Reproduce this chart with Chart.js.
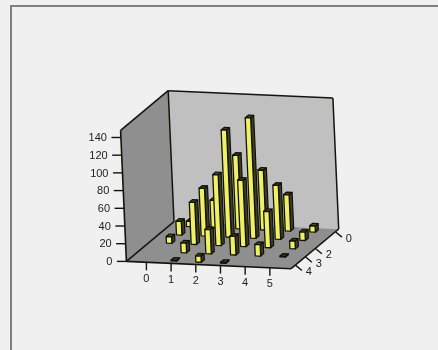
<!DOCTYPE html>
<html>
<head>
    <meta charset="UTF-8">
    <title>3D bars</title>
    <script src="https://cdn.jsdelivr.net/npm/chart.js"></script>
    <style>
        html, body { margin: 0; background: #f0f0f0; overflow: hidden; }
        #panel { position: absolute; left: 10px; top: 5px; right: 0; bottom: 0; border-left: 2px solid #808080; border-top: 2px solid #808080; }
        #chart { position: absolute; left: 0; top: 0; }
    </style>
</head>
<body>
    <div id="panel"></div>
    <canvas id="chart" width="438" height="350"></canvas>

    <script>
        const columns = [0, 1, 2, 3, 4, 5];
        const rows = [0, 1, 2, 3, 4];
        const valueTicks = [0, 20, 40, 60, 80, 100, 120, 140];
        const columnTicks = [0, 1, 2, 3, 4, 5];
        const rowTicks = [0, 2, 3, 4];

        const row0 = [6, 31, 83, 67.5, 41, 7];
        const row1 = [15.5, 54, 121, 136, 61, 9.5];
        const row2 = [7.5, 47.6, 80, 75, 41, 8.7];
        const row3 = [0, 11, 27.5, 21, 13, 1];
        const row4 = [0, 1, 7, 1, 0, 0];
        const rowValues = [row0, row1, row2, row3, row4];

        // box edges in pixels: back-left floor corner, then the three axis directions
        const origin = [174, 221.7];
        const alongX = [164.7, 7.3];
        const alongDepth = [-47.6, 39.7];
        const alongY = [-5.8, -131];

        const barHalfWidth = 0.11;
        const barHalfDepth = 0.15;

        function decimal(scale, value) {
            return scale.getDecimalForPixel(scale.getPixelForValue(value));
        }

        function project(chart, col, row, value) {
            const u = decimal(chart.scales.x, col);
            const w = decimal(chart.scales.depth, row);
            const h = decimal(chart.scales.y, value);
            return [
                origin[0] + u * alongX[0] + w * alongDepth[0] + h * alongY[0],
                origin[1] + u * alongX[1] + w * alongDepth[1] + h * alongY[1]
            ];
        }

        function polygon(ctx, points, fill, stroke, lineWidth) {
            ctx.beginPath();
            points.forEach((p, i) => i ? ctx.lineTo(p[0], p[1]) : ctx.moveTo(p[0], p[1]));
            ctx.closePath();
            ctx.fillStyle = fill;
            ctx.fill();
            if (stroke) {
                ctx.strokeStyle = stroke;
                ctx.lineWidth = lineWidth;
                ctx.lineJoin = 'round';
                ctx.stroke();
            }
        }

        function line(ctx, a, b, lineWidth) {
            ctx.beginPath();
            ctx.moveTo(a[0], a[1]);
            ctx.lineTo(b[0], b[1]);
            ctx.strokeStyle = '#14140c';
            ctx.lineWidth = lineWidth;
            ctx.stroke();
        }

        function corners(chart) {
            const x = chart.scales.x, d = chart.scales.depth, y = chart.scales.y;
            const at = (c, r, v) => project(chart, c, r, v);
            return {
                backLeft: at(x.min, d.min, y.min),
                backRight: at(x.max, d.min, y.min),
                frontLeft: at(x.min, d.max, y.min),
                frontRight: at(x.max, d.max, y.min),
                backLeftTop: at(x.min, d.min, y.max),
                backRightTop: at(x.max, d.min, y.max),
                frontLeftTop: at(x.min, d.max, y.max)
            };
        }

        function drawBox(chart) {
            const ctx = chart.ctx;
            const k = corners(chart);
            polygon(ctx, [k.frontLeft, k.frontLeftTop, k.backLeftTop, k.backLeft], '#8f8f8f');
            polygon(ctx, [k.backLeft, k.backLeftTop, k.backRightTop, k.backRight], '#c0c0c0');
            polygon(ctx, [k.frontLeft, k.backLeft, k.backRight, k.frontRight], '#8f8f8f');
            line(ctx, k.frontLeft, k.frontLeftTop, 1.6);
            line(ctx, k.frontLeftTop, k.backLeftTop, 1.6);
            line(ctx, k.backLeftTop, k.backRightTop, 1.6);
            line(ctx, k.backLeftTop, k.backLeft, 1.5);
            line(ctx, k.backRightTop, k.backRight, 1.5);
            line(ctx, k.frontLeft, k.backLeft, 1.5);
            line(ctx, k.frontLeft, k.frontRight, 1.6);
            line(ctx, k.frontRight, k.backRight, 1.6);
        }

        function drawAxes(chart) {
            const ctx = chart.ctx;
            const x = chart.scales.x, d = chart.scales.depth, y = chart.scales.y;
            ctx.font = '11px "Liberation Sans", Arial, sans-serif';
            ctx.textBaseline = 'middle';

            y.ticks.forEach(t => {
                const p = project(chart, x.min, d.max, t.value);
                line(ctx, p, [p[0] - 9.5, p[1]], 1.4);
                ctx.textAlign = 'right';
                ctx.fillStyle = '#222222';
                ctx.fillText(y.getLabelForValue(t.value), p[0] - 14, p[1] + 0.6);
            });

            x.ticks.forEach(t => {
                const p = project(chart, t.value, d.max, y.min);
                line(ctx, p, [p[0], p[1] + 8], 1.4);
                ctx.textAlign = 'center';
                ctx.fillStyle = '#222222';
                ctx.fillText(x.getLabelForValue(t.value), p[0], p[1] + 16.5);
            });

            d.ticks.forEach(t => {
                const p = project(chart, x.max, t.value, y.min);
                line(ctx, p, [p[0] + 6.5, p[1] + 5.4], 1.4);
                ctx.textAlign = 'center';
                ctx.fillStyle = '#222222';
                ctx.fillText(d.getLabelForValue(t.value), p[0] + 13.5, p[1] + 7);
            });
        }

        function drawBar(chart, col, row, value) {
            const ctx = chart.ctx;
            const left = col - barHalfWidth, right = col + barHalfWidth;
            const back = row - barHalfDepth, front = row + barHalfDepth;
            const frontFace = [
                project(chart, left, front, 0), project(chart, right, front, 0),
                project(chart, right, front, value), project(chart, left, front, value)
            ];
            const sideFace = [
                project(chart, right, front, 0), project(chart, right, back, 0),
                project(chart, right, back, value), project(chart, right, front, value)
            ];
            const topFace = [
                project(chart, left, front, value), project(chart, right, front, value),
                project(chart, right, back, value), project(chart, left, back, value)
            ];
            polygon(ctx, sideFace, '#3e3e24', '#12120a', 1.2);
            polygon(ctx, topFace, '#4c4c2c', '#12120a', 1.2);
            polygon(ctx, frontFace, '#f0f064', '#12120a', 1.3);
        }

        // back rows first, and left to right inside a row, so nearer bars cover farther ones
        const box3d = {
            id: 'box3d',
            beforeDatasetsDraw(chart) {
                drawBox(chart);
                drawAxes(chart);
            },
            afterDatasetsDraw(chart) {
                chart.data.datasets.forEach((dataset, r) => {
                    dataset.data.forEach(pt => {
                        if (pt.y > 0) drawBar(chart, pt.x, rows[r], pt.y);
                    });
                });
            }
        };

        new Chart(document.getElementById('chart'), {
            type: 'scatter',
            data: {
                datasets: rowValues.map((values, r) => ({
                    label: String(rows[r]),
                    data: values.map((v, c) => ({ x: columns[c], y: v })),
                    pointRadius: 0,
                    showLine: false
                }))
            },
            options: {
                responsive: false,
                animation: false,
                events: [],
                plugins: { legend: { display: false }, tooltip: { enabled: false } },
                scales: {
                    x: {
                        type: 'linear', display: false, min: -0.81, max: 5.86,
                        afterBuildTicks: s => { s.ticks = columnTicks.map(value => ({ value })); }
                    },
                    depth: {
                        type: 'linear', axis: 'x', display: false, min: -0.33, max: 4.43,
                        afterBuildTicks: s => { s.ticks = rowTicks.map(value => ({ value })); }
                    },
                    y: {
                        type: 'linear', display: false, min: 0, max: 148,
                        afterBuildTicks: s => { s.ticks = valueTicks.map(value => ({ value })); }
                    }
                }
            },
            plugins: [box3d]
        });
    </script>
</body>
</html>
